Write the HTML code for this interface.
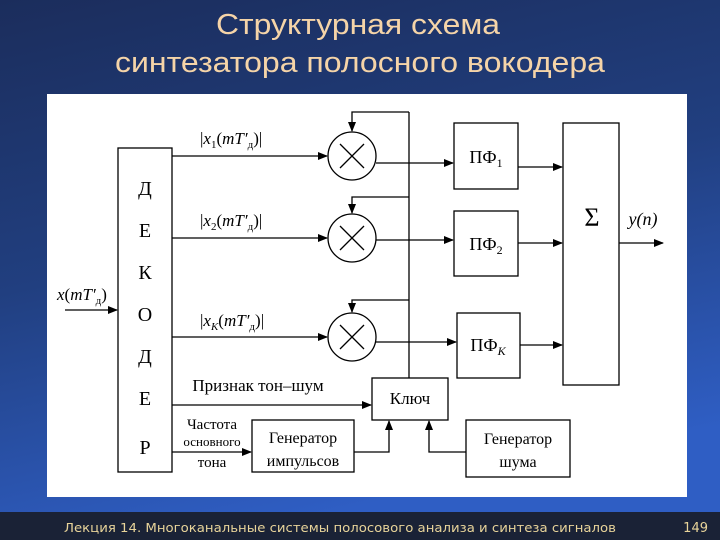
<!DOCTYPE html>
<html><head><meta charset="utf-8"><style>
html,body{margin:0;padding:0;width:720px;height:540px;overflow:hidden}
</style></head><body>
<svg width="720" height="540" viewBox="0 0 720 540" xmlns="http://www.w3.org/2000/svg">
<defs>
<linearGradient id="bg" x1="0" y1="0" x2="0.3" y2="1">
<stop offset="0" stop-color="#1b2d5c"/><stop offset="0.5" stop-color="#213f80"/><stop offset="1" stop-color="#2f5ec4"/>
</linearGradient>
<marker id="a" markerWidth="10" markerHeight="8" refX="9" refY="4" orient="auto" markerUnits="userSpaceOnUse">
<path d="M0,0 L10,4 L0,8 z" fill="#000"/></marker>
</defs>
<rect width="720" height="540" fill="url(#bg)"/>
<rect y="512" width="720" height="28" fill="#1a2236"/>
<text x="358" y="34" fill="#f5d4a8" font-family="Liberation Sans, sans-serif" font-size="29" text-anchor="middle" textLength="284" lengthAdjust="spacingAndGlyphs">Структурная схема</text>
<text x="360" y="72" fill="#f5d4a8" font-family="Liberation Sans, sans-serif" font-size="29" text-anchor="middle" textLength="490" lengthAdjust="spacingAndGlyphs">синтезатора полосного вокодера</text>
<rect x="47" y="94" width="640" height="403" fill="#fff"/>
<g stroke="#000" stroke-width="1.3" fill="none" font-family="Liberation Serif, serif">
<rect x="118" y="148" width="54" height="324"/>
<rect x="454" y="123" width="64" height="66"/>
<rect x="454" y="211" width="64" height="65"/>
<rect x="457" y="313" width="63" height="65"/>
<rect x="563" y="123" width="56" height="262"/>
<rect x="372" y="378" width="76" height="42"/>
<rect x="252" y="420" width="102" height="52"/>
<rect x="466" y="420" width="104" height="57"/>
<circle cx="352" cy="156" r="24"/><circle cx="352" cy="238" r="24"/><circle cx="352" cy="337" r="24"/>
<path d="M340,144 L364,168 M364,144 L340,168 M340,226 L364,250 M364,226 L340,250 M340,325 L364,349 M364,325 L340,349"/>
<path d="M409,378 V112"/>
<path d="M409,112 H352 V131" marker-end="url(#a)"/>
<path d="M409,197 H352 V213" marker-end="url(#a)"/>
<path d="M409,300 H352 V312" marker-end="url(#a)"/>
<path d="M172,156 H327" marker-end="url(#a)"/>
<path d="M172,238 H327" marker-end="url(#a)"/>
<path d="M172,337 H327" marker-end="url(#a)"/>
<path d="M376,163 H453" marker-end="url(#a)"/>
<path d="M376,240 H453" marker-end="url(#a)"/>
<path d="M376,342 H456" marker-end="url(#a)"/>
<path d="M518,167 H562" marker-end="url(#a)"/>
<path d="M518,243 H562" marker-end="url(#a)"/>
<path d="M520,345 H562" marker-end="url(#a)"/>
<path d="M619,243 H663" marker-end="url(#a)"/>
<path d="M65,310 H117" marker-end="url(#a)"/>
<path d="M172,405 H371" marker-end="url(#a)"/>
<path d="M172,452 H251" marker-end="url(#a)"/>
<path d="M354,452 H389 V421" marker-end="url(#a)"/>
<path d="M466,452 H429 V421" marker-end="url(#a)"/>
</g>
<g font-family="Liberation Serif, serif" font-size="20" fill="#000" text-anchor="middle">
<text x="145" y="195">Д</text><text x="145" y="237">Е</text><text x="145" y="279">К</text>
<text x="145" y="321">О</text><text x="145" y="363">Д</text><text x="145" y="405">Е</text><text x="145" y="454">Р</text>
</g>
<g font-family="Liberation Serif, serif" font-size="18" fill="#000" text-anchor="middle">
<text x="486" y="163">ПФ<tspan font-size="12" dy="4">1</tspan></text>
<text x="486" y="250">ПФ<tspan font-size="12" dy="4">2</tspan></text>
<text x="488" y="351">ПФ<tspan font-size="12" dy="4" font-style="italic">K</tspan></text>
<text x="592" y="226" font-size="26">Σ</text>
<text x="643" y="225" font-style="italic">y(n)</text>
<text x="410" y="404" font-size="17">Ключ</text>
<text x="303" y="443" font-size="16">Генератор</text>
<text x="303" y="466" font-size="16">импульсов</text>
<text x="518" y="444" font-size="16">Генератор</text>
<text x="518" y="467" font-size="16">шума</text>
<text x="258" y="391" font-size="17">Признак тон–шум</text>
<text x="212" y="429" font-size="15">Частота</text>
<text x="212" y="446" font-size="13">основного</text>
<text x="212" y="467" font-size="15">тона</text>
</g>
<g font-family="Liberation Serif, serif" font-size="17" fill="#000">
<text x="200" y="144">|<tspan font-style="italic">x</tspan><tspan font-size="11" dy="4">1</tspan><tspan dy="-4">(</tspan><tspan font-style="italic">mT′</tspan><tspan font-size="11" dy="4">д</tspan><tspan dy="-4">)|</tspan></text>
<text x="200" y="226">|<tspan font-style="italic">x</tspan><tspan font-size="11" dy="4">2</tspan><tspan dy="-4">(</tspan><tspan font-style="italic">mT′</tspan><tspan font-size="11" dy="4">д</tspan><tspan dy="-4">)|</tspan></text>
<text x="200" y="326">|<tspan font-style="italic">x</tspan><tspan font-size="11" dy="4" font-style="italic">K</tspan><tspan dy="-4">(</tspan><tspan font-style="italic">mT′</tspan><tspan font-size="11" dy="4">д</tspan><tspan dy="-4">)|</tspan></text>
<text x="57" y="300"><tspan font-style="italic">x</tspan>(<tspan font-style="italic">mT′</tspan><tspan font-size="11" dy="4">д</tspan><tspan dy="-4">)</tspan></text>
</g>
<text x="64" y="532" fill="#e8d49a" font-family="DejaVu Sans, sans-serif" font-size="12" textLength="552" lengthAdjust="spacingAndGlyphs">Лекция 14. Многоканальные  системы полосового анализа и синтеза сигналов</text>
<text x="708" y="532" fill="#e8d49a" font-family="DejaVu Sans, sans-serif" font-size="13" text-anchor="end">149</text>
</svg>
</body></html>
